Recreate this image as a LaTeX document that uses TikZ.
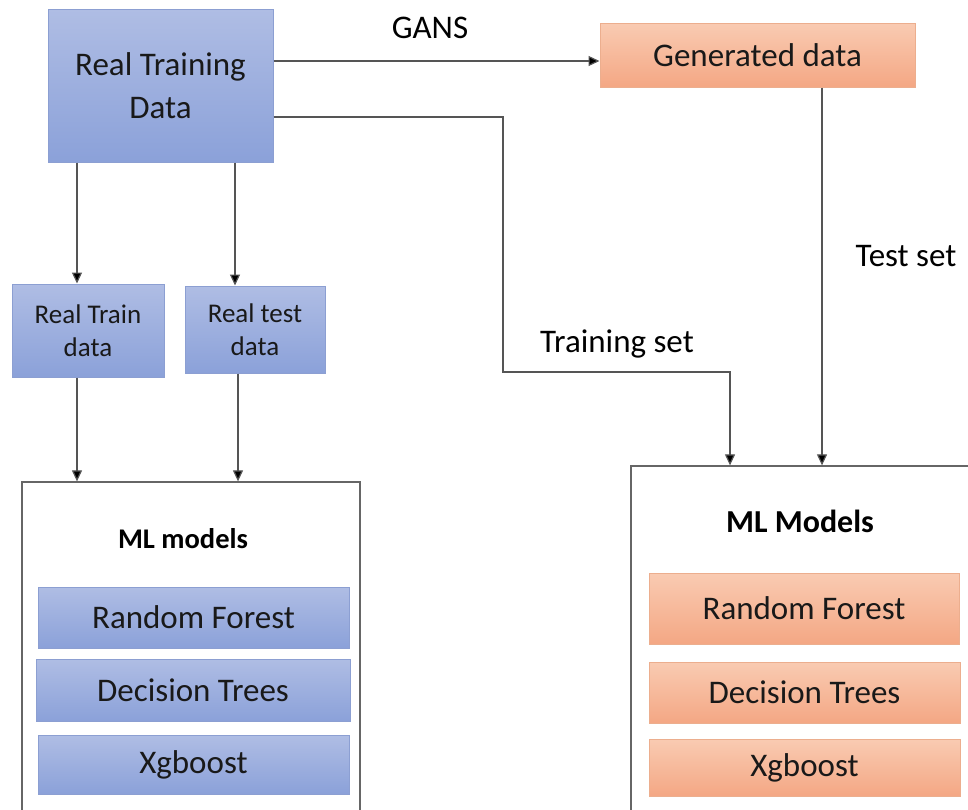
\documentclass[tikz,border=0pt]{standalone}
\usepackage{fontspec}
\setmainfont{Carlito}
\usetikzlibrary{arrows.meta,calc,shadings}
\definecolor{bluetop}{HTML}{AFBDE4}
\definecolor{bluebot}{HTML}{8BA1D9}
\definecolor{blueedge}{HTML}{8C9FD2}
\definecolor{ortop}{HTML}{F9CBB2}
\definecolor{orbot}{HTML}{F4A784}
\definecolor{oredge}{HTML}{ECAE8E}
\definecolor{linecol}{HTML}{555555}
\begin{document}
\begin{tikzpicture}[x=1pt,y=-1pt,
  bluebox/.style={rectangle,draw=blueedge,line width=1pt,top color=bluetop,bottom color=bluebot,inner sep=0pt,align=center,text=black!90},
  orbox/.style={rectangle,draw=oredge,line width=1pt,top color=ortop,bottom color=orbot,inner sep=0pt,align=center,text=black!90},
  frame/.style={rectangle,draw=linecol!90,line width=1.3pt,fill=white,inner sep=0pt},
  conn/.style={draw=linecol,line width=1.2pt},
  arr/.style={conn,-{Triangle[length=11pt,width=10pt,fill=black]}},
  big/.style={font=\fontsize{33}{40}\selectfont},
  lab/.style={anchor=base,inner sep=0pt,big}
]
\useasboundingbox (0,0) rectangle (968,809);
\begin{scope}
\clip (0,0) rectangle (968,809);
% top boxes
\node[bluebox,minimum width=225pt,minimum height=153pt,font=\fontsize{33}{43}\selectfont] (rtd) at (160.5,85.5) {Real Training\\Data};
\node[orbox,minimum width=315pt,minimum height=64pt,big] (gen) at (757.5,55) {Generated data};
% second row
\node[bluebox,minimum width=152pt,minimum height=93pt,font=\fontsize{27}{33}\selectfont] (rtrain) at (88,330.5) {Real Train\\data};
\node[bluebox,minimum width=140pt,minimum height=87pt,font=\fontsize{27}{33}\selectfont] (rtest) at (255,329.5) {Real test\\data};
% left models frame
\node[frame,minimum width=338pt,minimum height=348pt] (lbox) at (191,656) {};
\node[lab,font=\fontsize{28.5}{32}\selectfont\bfseries] (lml) at (183,548) {ML models};
\node[bluebox,minimum width=311pt,minimum height=61pt,big] (lrf) at (193.5,617.5) {Random Forest};
\node[bluebox,minimum width=314pt,minimum height=62pt,big] (ldt) at (193,690) {Decision Trees};
\node[bluebox,minimum width=311pt,minimum height=59pt,big] (lxg) at (193.5,764.5) {Xgboost};
% right models frame
\node[frame,minimum width=359pt,minimum height=364pt] (rbox) at (810.5,648) {};
\node[lab,font=\fontsize{32}{36}\selectfont\bfseries] (rml) at (800,532) {ML Models};
\node[orbox,minimum width=310pt,minimum height=71pt,big] (rrf) at (804,608.5) {Random Forest};
\node[orbox,minimum width=311pt,minimum height=61pt,big] (rdt) at (804.5,692.5) {Decision Trees};
\node[orbox,minimum width=311pt,minimum height=57pt,big] (rxg) at (804.5,767.5) {Xgboost};
\end{scope}
% labels
\node[lab] (gans) at (430,38) {GANS};
\node[lab] (tset) at (906,266) {Test set};
\node[lab] (trset) at (617,352) {Training set};
% connectors
\coordinate (ga) at ($(gen.west)+(0,6)$);
\draw[arr] (rtd.east |- ga) -- (ga);
\draw[arr] (rtd.east |- 0,117) -- (503,117) -- (503,372) -- (730,372) -- (730,0 |- rbox.north);
\draw[arr] (822,0 |- gen.south) -- (822,0 |- rbox.north);
\draw[arr] (77,0 |- rtd.south) -- (77,0 |- rtrain.north);
\draw[arr] (235,0 |- rtd.south) -- (235,0 |- rtest.north);
\draw[arr] (77,0 |- rtrain.south) -- (77,0 |- lbox.north);
\draw[arr] (238,0 |- rtest.south) -- (238,0 |- lbox.north);
\end{tikzpicture}
\end{document}
